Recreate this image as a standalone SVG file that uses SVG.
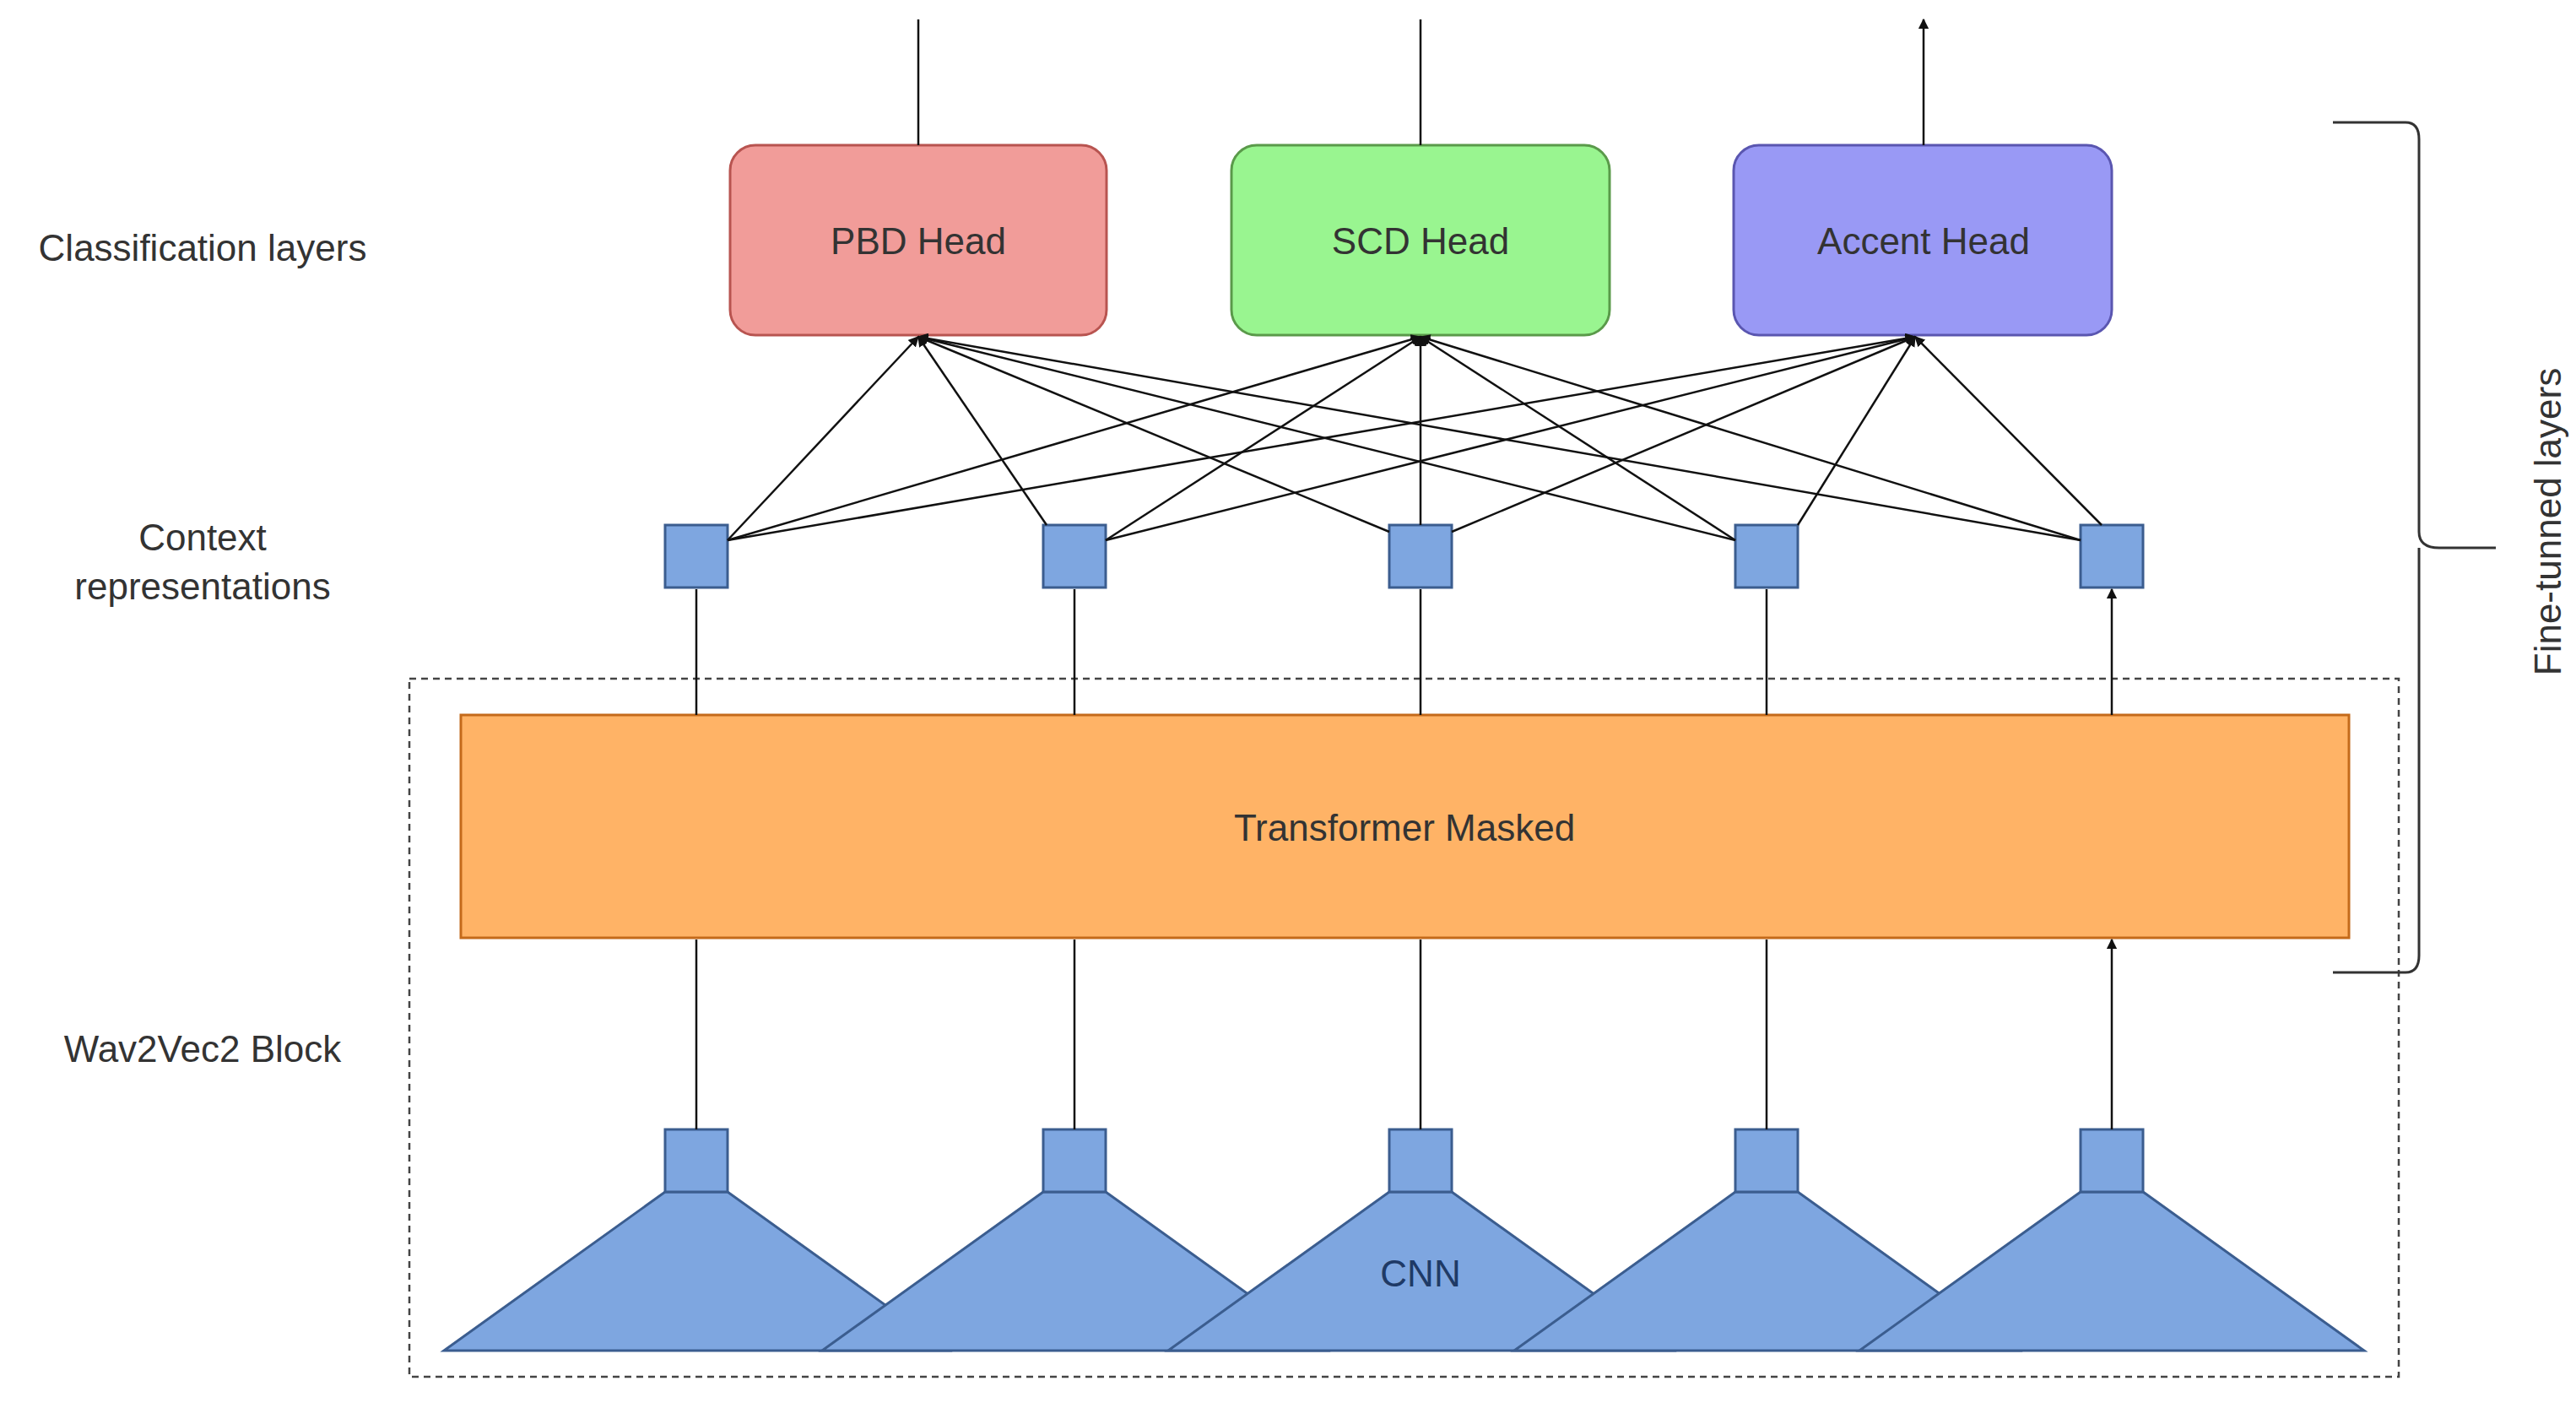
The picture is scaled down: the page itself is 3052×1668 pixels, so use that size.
<svg xmlns="http://www.w3.org/2000/svg" width="3052" height="1668" viewBox="0 0 3052 1668">
<style>
text{font-family:"Liberation Sans",Arial,sans-serif;font-size:44px;fill:#333;text-anchor:middle;dominant-baseline:central}
.c{stroke:#111;stroke-width:2.5;fill:none}
.a{marker-end:url(#ah)}
.sq{fill:#7EA6E0;stroke:#3b5d8f;stroke-width:3}
</style>
<defs><marker id="ah" viewBox="0 0 10 10" refX="9" refY="5" markerWidth="5" markerHeight="5" orient="auto"><path d="M0,0L10,5L0,10z" fill="#111"/></marker></defs>
<rect width="3052" height="1668" fill="#fff"/>
<g id="labels">
<text x="240" y="293">Classification layers</text>
<text x="240" y="636">Context</text>
<text x="240" y="694">representations</text>
<text x="240" y="1242">Wav2Vec2 Block</text>
<text x="3018" y="618" transform="rotate(-90 3018 618)">Fine-tunned layers</text>
</g>
<g id="wav2vec2-block"><rect x="485" y="804" width="2357" height="827" fill="none" stroke="#444" stroke-width="2.5" stroke-dasharray="8 6"/></g>
<g id="cnn">
<polygon class="sq" points="788,1412 862,1412 1124,1600 526,1600"/>
<polygon class="sq" points="1236,1412 1310,1412 1572,1600 974,1600"/>
<polygon class="sq" points="1646,1412 1720,1412 1982,1600 1384,1600"/>
<polygon class="sq" points="2056,1412 2130,1412 2392,1600 1794,1600"/>
<polygon class="sq" points="2465,1412 2539,1412 2801,1600 2203,1600"/>
<text x="1683" y="1508" style="fill:#1f3a66">CNN</text>
<rect class="sq" x="788" y="1338" width="74" height="74"/>
<rect class="sq" x="1236" y="1338" width="74" height="74"/>
<rect class="sq" x="1646" y="1338" width="74" height="74"/>
<rect class="sq" x="2056" y="1338" width="74" height="74"/>
<rect class="sq" x="2465" y="1338" width="74" height="74"/>
</g>
<g id="transformer"><rect x="546" y="847" width="2237" height="264" fill="#FFB366" stroke="#c46a1a" stroke-width="3"/><text x="1664" y="980">Transformer Masked</text></g>
<g id="context">
<rect class="sq" x="788" y="622" width="74" height="74"/>
<rect class="sq" x="1236" y="622" width="74" height="74"/>
<rect class="sq" x="1646" y="622" width="74" height="74"/>
<rect class="sq" x="2056" y="622" width="74" height="74"/>
<rect class="sq" x="2465" y="622" width="74" height="74"/>
</g>
<g id="heads">
<rect x="865" y="172" width="446" height="225" rx="30" fill="#F19C99" stroke="#b85450" stroke-width="3"/><text x="1088" y="285">PBD Head</text>
<rect x="1459" y="172" width="448" height="225" rx="30" fill="#99F590" stroke="#5a9a4a" stroke-width="3"/><text x="1683" y="285">SCD Head</text>
<rect x="2054" y="172" width="448" height="225" rx="30" fill="#9999F5" stroke="#5a56b0" stroke-width="3"/><text x="2279" y="285">Accent Head</text>
</g>
<g id="connectors">
<path class="c a" d="M1088,172V23M1683,172V23M2279,172V23"/>
<path class="c a" d="M825,847V698M1273,847V698M1683,847V698M2093,847V698M2502,847V698"/>
<path class="c a" d="M825,1338V1113M1273,1338V1113M1683,1338V1113M2093,1338V1113M2502,1338V1113"/>
<g class="c a">
<path d="M862,640L1088,399"/><path d="M862,640L1683,399"/><path d="M862,640L2269,399"/>
<path d="M1240,622L1088,399"/><path d="M1310,640L1683,399"/><path d="M1310,640L2269,399"/>
<path d="M1646,630L1088,399"/><path d="M1683,622L1683,399"/><path d="M1720,630L2269,399"/>
<path d="M2056,640L1088,399"/><path d="M2056,640L1683,399"/><path d="M2130,622L2269,399"/>
<path d="M2465,640L1088,399"/><path d="M2465,640L1683,399"/><path d="M2490,622L2269,399"/>
</g>
<path d="M2764,145H2850Q2866,145 2866,165V630Q2866,649 2890,649H2957M2866,649V1132Q2866,1152 2850,1152H2764" fill="none" stroke="#333" stroke-width="3"/>
</g>
</svg>
